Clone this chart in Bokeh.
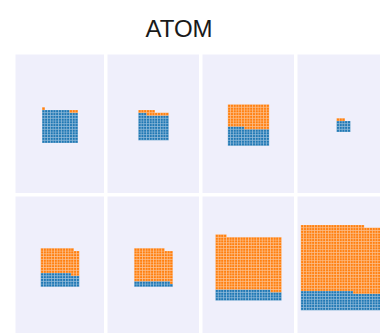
import math
from bokeh.plotting import figure
from bokeh.layouts import column, row
from bokeh.models import Range1d, ColumnDataSource, Label
from bokeh.embed import file_html
from bokeh.resources import INLINE

# ---- data (cell counts per facet) ----
chart_title = "ATOM"
blue_counts = [153, 102, 96, 20, 67, 27, 92, 205]
orange_counts = [4, 14, 129, 3, 127, 166, 464, 748]
blue_color = "#1f77b4"
orange_color = "#ff7f0e"

# ---- layout constants ----
CELL_PX = 2.75
PANEL_BG = "#EFEFFB"
frame_widths = [89, 92, 92, 83]
virtual_widths = [89, 92, 92, 92]
row_heights = [139, 137]
row_offsets = [1.0, 2.5]   # px the waffle sits below the frame centre


def make_panel(idx):
    nb, no = blue_counts[idx], orange_counts[idx]
    total = nb + no
    ncols = math.ceil(math.sqrt(total))
    xs, ys, cols = [], [], []
    for k in range(total):
        r, c = divmod(k, ncols)
        xs.append(c + 0.5)
        ys.append(r + 0.5)
        cols.append(blue_color if k < nb else orange_color)
    src = ColumnDataSource(dict(x=xs, y=ys, c=cols))

    ci, ri = idx % 4, idx // 4
    fw, fh = frame_widths[ci], row_heights[ri]
    vw = virtual_widths[ci]
    xc = ncols / 2.0
    x0 = xc - (vw / 2.0) / CELL_PX
    x1 = x0 + fw / CELL_PX
    yc = ncols / 2.0 + row_offsets[ri] / CELL_PX
    y0 = yc - (fh / 2.0) / CELL_PX
    y1 = yc + (fh / 2.0) / CELL_PX

    p = figure(frame_width=fw, frame_height=fh,
               x_range=Range1d(x0, x1), y_range=Range1d(y0, y1),
               x_axis_type=None, y_axis_type=None,
               toolbar_location=None, output_backend="svg",
               min_border=0, min_border_left=(15 if ci == 0 else 0))
    p.background_fill_color = PANEL_BG
    p.border_fill_color = "white"
    p.outline_line_color = None
    p.rect(x="x", y="y", width=1, height=1, source=src,
           fill_color="c", line_color="white", line_width=0.4, line_alpha=0.5)
    return p


panels = [make_panel(i) for i in range(8)]

tp = figure(width=380, height=51, toolbar_location=None, output_backend="svg",
            x_axis_type=None, y_axis_type=None, min_border=0)
tp.outline_line_color = None
tp.border_fill_color = "white"
tp.background_fill_color = "white"
tp.add_layout(Label(x=178.5, y=22.7, x_units="screen", y_units="screen",
                    text=chart_title, text_align="center", text_baseline="alphabetic",
                    text_font="Liberation Sans", text_font_size="24px",
                    text_color="#1a1a1a"))

layout = column(tp,
                row(*panels[:4], spacing=3),
                row(*panels[4:], spacing=3),
                spacing=3)

open("out.html", "w").write(file_html(layout, INLINE))
